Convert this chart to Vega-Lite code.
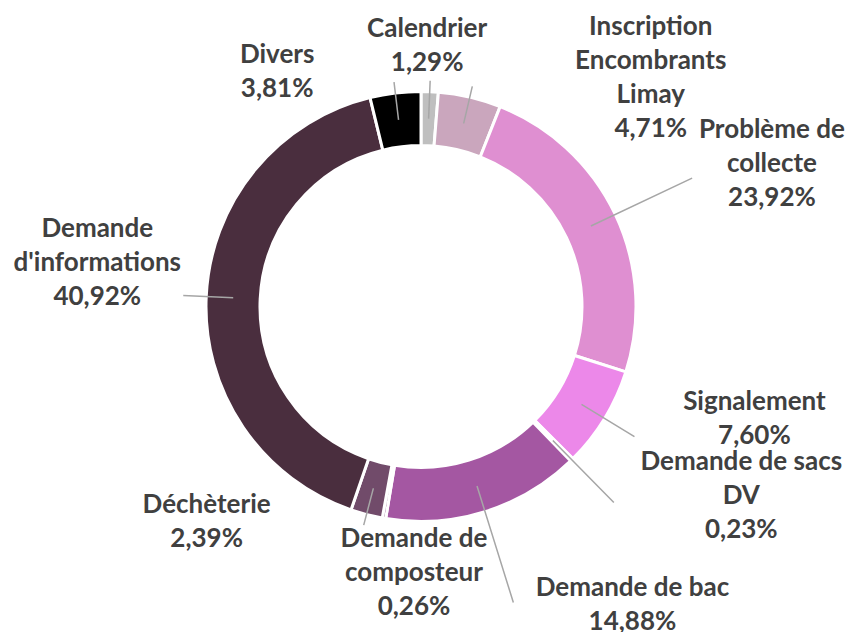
{
  "$schema": "https://vega.github.io/schema/vega-lite/v6.json",
  "width": 842,
  "height": 613,
  "autosize": {"type": "none"},
  "padding": {"left": 0, "top": 0, "right": 7, "bottom": 19},
  "background": "white",
  "config": {
    "view": {"stroke": null},
    "text": {"font": "Lato", "fontWeight": "bold", "fontSize": 26, "fill": "#404040", "lineHeight": 34, "align": "center", "baseline": "alphabetic", "lineBreak": "\n"}
  },
  "data": {
    "values": [
      {"cat": "Calendrier", "value": 1.29},
      {"cat": "Inscription Encombrants Limay", "value": 4.71},
      {"cat": "Problème de collecte", "value": 23.92},
      {"cat": "Signalement", "value": 7.60},
      {"cat": "Demande de sacs DV", "value": 0.23},
      {"cat": "Demande de bac", "value": 14.88},
      {"cat": "Demande de composteur", "value": 0.26},
      {"cat": "Déchèterie", "value": 2.39},
      {"cat": "Demande d'informations", "value": 40.92},
      {"cat": "Divers", "value": 3.81}
    ]
  },
  "transform": [
    {"window": [{"op": "sum", "field": "value", "as": "end"}], "frame": [null, 0]},
    {"calculate": "datum.end - datum.value", "as": "start"},
    {"calculate": "datum.end - datum.value / 2", "as": "mid"},
    {"calculate": "replace(format(datum.value, '.2f'), '.', ',') + '%'", "as": "pct"},
    {"calculate": "(datum.cat == 'Demande de bac' ? datum.cat : datum.cat == 'Inscription Encombrants Limay' ? replace(datum.cat, regexp(' ', 'g'), '\\n') : replace(datum.cat, regexp(' (?=[^ ]+$)'), '\\n')) + '\\n' + datum.pct", "as": "txt"}
  ],
  "layer": [
    {
      "mark": {"type": "arc", "radius": 215, "radius2": 161, "stroke": "white", "strokeWidth": 3},
      "encoding": {
        "theta": {"field": "end", "type": "quantitative", "stack": null, "scale": {"zero": true, "nice": false}},
        "theta2": {"field": "start"},
        "color": {
          "field": "cat", "type": "nominal", "legend": null,
          "scale": {
            "domain": ["Calendrier", "Inscription Encombrants Limay", "Problème de collecte", "Signalement", "Demande de sacs DV", "Demande de bac", "Demande de composteur", "Déchèterie", "Demande d'informations", "Divers"],
            "range": ["#bfbfbf", "#caa6bd", "#df8fd1", "#ec88e9", "#c46fc4", "#a457a2", "#8c5a88", "#714b6a", "#4a2e3e", "#000000"]
          }
        }
      }
    },
    {
      "transform": [{"filter": {"field": "cat", "oneOf": ["Calendrier", "Inscription Encombrants Limay", "Divers", "Déchèterie"]}}],
      "mark": {"type": "arc", "radius": 226, "radius2": 188, "stroke": "#a6a6a6", "strokeWidth": 1.5, "fillOpacity": 0},
      "encoding": {"theta": {"field": "mid", "type": "quantitative", "stack": null}, "theta2": {"field": "mid"}}
    },
    {
      "transform": [{"filter": {"field": "cat", "equal": "Problème de collecte"}}],
      "mark": {"type": "arc", "radius": 300, "radius2": 188, "stroke": "#a6a6a6", "strokeWidth": 1.5, "fillOpacity": 0},
      "encoding": {"theta": {"field": "mid", "type": "quantitative", "stack": null}, "theta2": {"field": "mid"}}
    },
    {
      "transform": [{"filter": {"field": "cat", "equal": "Signalement"}}],
      "mark": {"type": "arc", "radius": 250, "radius2": 188, "stroke": "#a6a6a6", "strokeWidth": 1.5, "fillOpacity": 0},
      "encoding": {"theta": {"field": "mid", "type": "quantitative", "stack": null}, "theta2": {"field": "mid"}}
    },
    {
      "transform": [{"filter": {"field": "cat", "equal": "Demande de sacs DV"}}],
      "mark": {"type": "arc", "radius": 275, "radius2": 188, "stroke": "#a6a6a6", "strokeWidth": 1.5, "fillOpacity": 0},
      "encoding": {"theta": {"field": "mid", "type": "quantitative", "stack": null}, "theta2": {"field": "mid"}}
    },
    {
      "transform": [{"filter": {"field": "cat", "equal": "Demande de bac"}}],
      "mark": {"type": "arc", "radius": 310, "radius2": 188, "stroke": "#a6a6a6", "strokeWidth": 1.5, "fillOpacity": 0},
      "encoding": {"theta": {"field": "mid", "type": "quantitative", "stack": null}, "theta2": {"field": "mid"}}
    },
    {
      "transform": [{"filter": {"field": "cat", "equal": "Demande d'informations"}}],
      "mark": {"type": "arc", "radius": 238, "radius2": 188, "stroke": "#a6a6a6", "strokeWidth": 1.5, "fillOpacity": 0},
      "encoding": {"theta": {"field": "mid", "type": "quantitative", "stack": null}, "theta2": {"field": "mid"}}
    },
    {
      "transform": [{"filter": {"field": "cat", "equal": "Calendrier"}}],
      "mark": {"type": "text", "radius": 250, "dx": -4, "dy": -20},
      "encoding": {"theta": {"field": "mid", "type": "quantitative", "stack": null}, "text": {"field": "txt", "type": "nominal"}}
    },
    {
      "transform": [{"filter": {"field": "cat", "equal": "Inscription Encombrants Limay"}}],
      "mark": {"type": "text", "radius": 250, "dx": 173, "dy": -28},
      "encoding": {"theta": {"field": "mid", "type": "quantitative", "stack": null}, "text": {"field": "txt", "type": "nominal"}}
    },
    {
      "transform": [{"filter": {"field": "cat", "equal": "Problème de collecte"}}],
      "mark": {"type": "text", "radius": 250, "dx": 125, "dy": -61},
      "encoding": {"theta": {"field": "mid", "type": "quantitative", "stack": null}, "text": {"field": "txt", "type": "nominal"}}
    },
    {
      "transform": [{"filter": {"field": "cat", "equal": "Signalement"}}],
      "mark": {"type": "text", "radius": 250, "dx": 120, "dy": -27},
      "encoding": {"theta": {"field": "mid", "type": "quantitative", "stack": null}, "text": {"field": "txt", "type": "nominal"}}
    },
    {
      "transform": [{"filter": {"field": "cat", "equal": "Demande de sacs DV"}}],
      "mark": {"type": "text", "radius": 250, "dx": 145, "dy": -15},
      "encoding": {"theta": {"field": "mid", "type": "quantitative", "stack": null}, "text": {"field": "txt", "type": "nominal"}}
    },
    {
      "transform": [{"filter": {"field": "cat", "equal": "Demande de bac"}}],
      "mark": {"type": "text", "radius": 250, "dx": 137, "dy": 51},
      "encoding": {"theta": {"field": "mid", "type": "quantitative", "stack": null}, "text": {"field": "txt", "type": "nominal"}}
    },
    {
      "transform": [{"filter": {"field": "cat", "equal": "Demande de composteur"}}],
      "mark": {"type": "text", "radius": 250, "dx": 36, "dy": -6},
      "encoding": {"theta": {"field": "mid", "type": "quantitative", "stack": null}, "text": {"field": "txt", "type": "nominal"}}
    },
    {
      "transform": [{"filter": {"field": "cat", "equal": "Déchèterie"}}],
      "mark": {"type": "text", "radius": 250, "dx": -151, "dy": -35},
      "encoding": {"theta": {"field": "mid", "type": "quantitative", "stack": null}, "text": {"field": "txt", "type": "nominal"}}
    },
    {
      "transform": [{"filter": {"field": "cat", "equal": "Demande d'informations"}}],
      "mark": {"type": "text", "radius": 250, "dx": -74, "dy": -58},
      "encoding": {"theta": {"field": "mid", "type": "quantitative", "stack": null}, "text": {"field": "txt", "type": "nominal"}}
    },
    {
      "transform": [{"filter": {"field": "cat", "equal": "Divers"}}],
      "mark": {"type": "text", "radius": 250, "dx": -114, "dy": 5},
      "encoding": {"theta": {"field": "mid", "type": "quantitative", "stack": null}, "text": {"field": "txt", "type": "nominal"}}
    }
  ]
}
